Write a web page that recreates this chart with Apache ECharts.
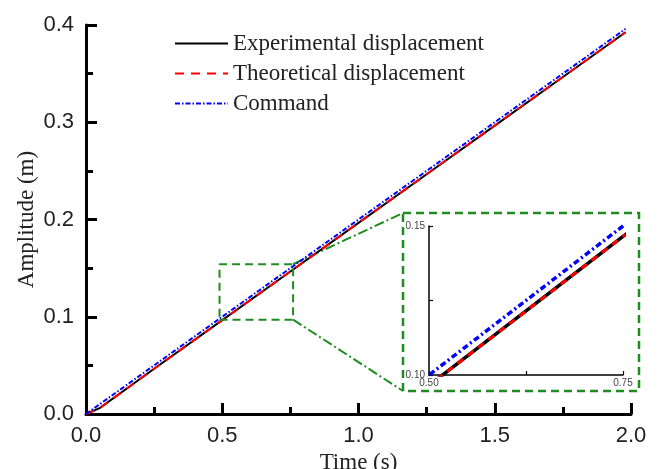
<!DOCTYPE html>
<html>
<head>
<meta charset="utf-8">
<script src="https://cdn.jsdelivr.net/npm/echarts@6/dist/echarts.min.js"></script>
<style>
  html,body{margin:0;padding:0;background:#fff;}
  #chart{width:658px;height:469px;}
</style>
</head>
<body>
<div id="chart"></div>
<script>
// values
var timeS = [0, 0.05, 0.25, 0.5, 0.75, 1.0, 1.25, 1.5, 1.75, 1.98]
var experimental = [0, 0.006, 0.0465, 0.0965, 0.1465, 0.1965, 0.2465, 0.2965, 0.3465, 0.3925]
var theoretical = [0, 0.006, 0.0465, 0.0965, 0.1465, 0.1965, 0.2465, 0.2965, 0.3465, 0.3925]
var command = [0, 0.01, 0.05, 0.1, 0.15, 0.2, 0.25, 0.3, 0.35, 0.396]
var xTicks = [0, 0.5, 1.0, 1.5, 2.0]
var yTicks = [0, 0.1, 0.2, 0.3, 0.4]
var zoomX = [0.49, 0.76] // zoomed region in main plot
var zoomY = [0.097, 0.154]
var insetX = [0.5, 0.75]
var insetY = [0.10, 0.15]

var serif = "'Liberation Serif','Times New Roman',serif"
var sans = "'Liberation Sans',Arial,sans-serif"
var green = '#1e8c1e'

function pairs(ys){
  return timeS.map(function(t,i){ return [t, ys[i]] })
}

var chart = echarts.init(document.getElementById('chart'))

var mainAxisLine = {show:true, lineStyle:{color:'#000', width:3}}

var option = {
  animation:false,
  backgroundColor:'#fff',
  grid:[
    {left:86, right:27, top:25, bottom:55, containLabel:false, outerBoundsMode:'none'},
    {left:429, right:35, top:226, bottom:94, containLabel:false, outerBoundsMode:'none',
      show:true, backgroundColor:'#fff', borderWidth:0}
  ],
  legend:{
    orient:'vertical',
    left:169, top:27,
    itemWidth:53, itemHeight:14, itemGap:7,
    itemStyle:{opacity:0},
    data:['Experimental displacement','Theoretical displacement','Command'],
    textStyle:{fontFamily:serif, fontSize:23, color:'#222'}
  },
  xAxis:[
    {
      gridIndex:0, type:'value', min:xTicks[0], max:xTicks[xTicks.length-1], interval:0.5,
      name:'Time (s)', nameLocation:'middle', nameGap:34,
      nameTextStyle:{fontFamily:serif, fontSize:23, color:'#222'},
      axisLine:mainAxisLine,
      axisTick:{show:true, inside:true, length:11, lineStyle:{width:3, color:'#000'}},
      minorTick:{show:true, splitNumber:2, length:7, lineStyle:{width:3, color:'#000'}},
      axisLabel:{fontFamily:sans, fontSize:22, color:'#222', margin:11,
        formatter:function(v){ return v.toFixed(1) }},
      splitLine:{show:false}
    },
    {
      gridIndex:1, type:'value', min:insetX[0], max:insetX[1], interval:0.125,
      axisLine:{show:true, lineStyle:{color:'#000', width:1.5}},
      axisTick:{show:true, inside:true, length:4, lineStyle:{width:1.2, color:'#000'}},
      axisLabel:{fontFamily:sans, fontSize:10, color:'#444', margin:3,
        formatter:function(v){ return (v===insetX[0]||v===insetX[1]) ? v.toFixed(2) : '' }},
      splitLine:{show:false}
    }
  ],
  yAxis:[
    {
      gridIndex:0, type:'value', min:yTicks[0], max:yTicks[yTicks.length-1], interval:0.1,
      name:'Amplitude (m)', nameLocation:'middle', nameGap:48, nameMoveOverlap:false,
      nameTextStyle:{fontFamily:serif, fontSize:23, color:'#222'},
      axisLine:mainAxisLine,
      axisTick:{show:true, inside:true, length:11, lineStyle:{width:3, color:'#000'}},
      minorTick:{show:true, splitNumber:2, length:7, lineStyle:{width:3, color:'#000'}},
      axisLabel:{fontFamily:sans, fontSize:22, color:'#222', margin:12,
        formatter:function(v){ return v.toFixed(1) }},
      splitLine:{show:false}
    },
    {
      gridIndex:1, type:'value', min:insetY[0], max:insetY[1], interval:0.025,
      axisLine:{show:true, lineStyle:{color:'#000', width:1.5}},
      axisTick:{show:true, inside:true, length:4, lineStyle:{width:1.2, color:'#000'}},
      axisLabel:{fontFamily:sans, fontSize:10, color:'#444', margin:4,
        formatter:function(v){ return (Math.abs(v-insetY[0])<1e-9||Math.abs(v-insetY[1])<1e-9) ? v.toFixed(2) : '' }},
      splitLine:{show:false}
    }
  ],
  series:[
    {name:'Experimental displacement', type:'line', xAxisIndex:0, yAxisIndex:0, symbol:'none',
      data:pairs(experimental), lineStyle:{color:'#000', width:2, type:'solid'}, itemStyle:{color:'#000'}},
    {name:'Theoretical displacement', type:'line', xAxisIndex:0, yAxisIndex:0, symbol:'none',
      data:pairs(theoretical), lineStyle:{color:'#ff0000', width:2, type:[9,7]}, itemStyle:{color:'#ff0000'}},
    {name:'Command', type:'line', xAxisIndex:0, yAxisIndex:0, symbol:'none',
      data:pairs(command), lineStyle:{color:'#0000ff', width:2, type:[5,2,1.5,2]}, itemStyle:{color:'#0000ff'}},
    // zoom box
    {name:'zoomBox', type:'line', xAxisIndex:0, yAxisIndex:0, symbol:'none', silent:true,
      data:[[zoomX[0],zoomY[0]],[zoomX[1],zoomY[0]],[zoomX[1],zoomY[1]],[zoomX[0],zoomY[1]],[zoomX[0],zoomY[0]]],
      lineStyle:{color:green, width:2, type:[8,5]}},
    // inset
    {name:'Experimental displacement', type:'line', xAxisIndex:1, yAxisIndex:1, symbol:'none',
      data:pairs(experimental), lineStyle:{color:'#000', width:3.5, type:'solid'}},
    {name:'Theoretical displacement', type:'line', xAxisIndex:1, yAxisIndex:1, symbol:'none',
      data:pairs(theoretical), lineStyle:{color:'#ff0000', width:3, type:[7,6]}},
    {name:'Command', type:'line', xAxisIndex:1, yAxisIndex:1, symbol:'none',
      data:pairs(command), lineStyle:{color:'#0000ff', width:3.5, type:[6,3,2,3]}}
  ]
}
chart.setOption(option)

// inset frame and connectors
var boxTR = chart.convertToPixel({xAxisIndex:0, yAxisIndex:0}, [zoomX[1], zoomY[1]])
var boxBR = chart.convertToPixel({xAxisIndex:0, yAxisIndex:0}, [zoomX[1], zoomY[0]])
var frame = {x:403, y:213, w:236, h:178}
var dashDot = {stroke:green, lineWidth:2, lineDash:[10,3,2,3]}
chart.setOption({
  graphic:[
    {type:'rect', z:-1, shape:{x:frame.x, y:frame.y, width:frame.w, height:frame.h},
      style:{fill:'#fff', stroke:green, lineWidth:2.5, lineDash:[8,5]}},
    {type:'line', shape:{x1:boxTR[0], y1:boxTR[1], x2:frame.x, y2:frame.y}, style:dashDot},
    {type:'line', shape:{x1:boxBR[0], y1:boxBR[1], x2:frame.x, y2:frame.y+frame.h}, style:dashDot}
  ]
})
</script>
</body>
</html>
